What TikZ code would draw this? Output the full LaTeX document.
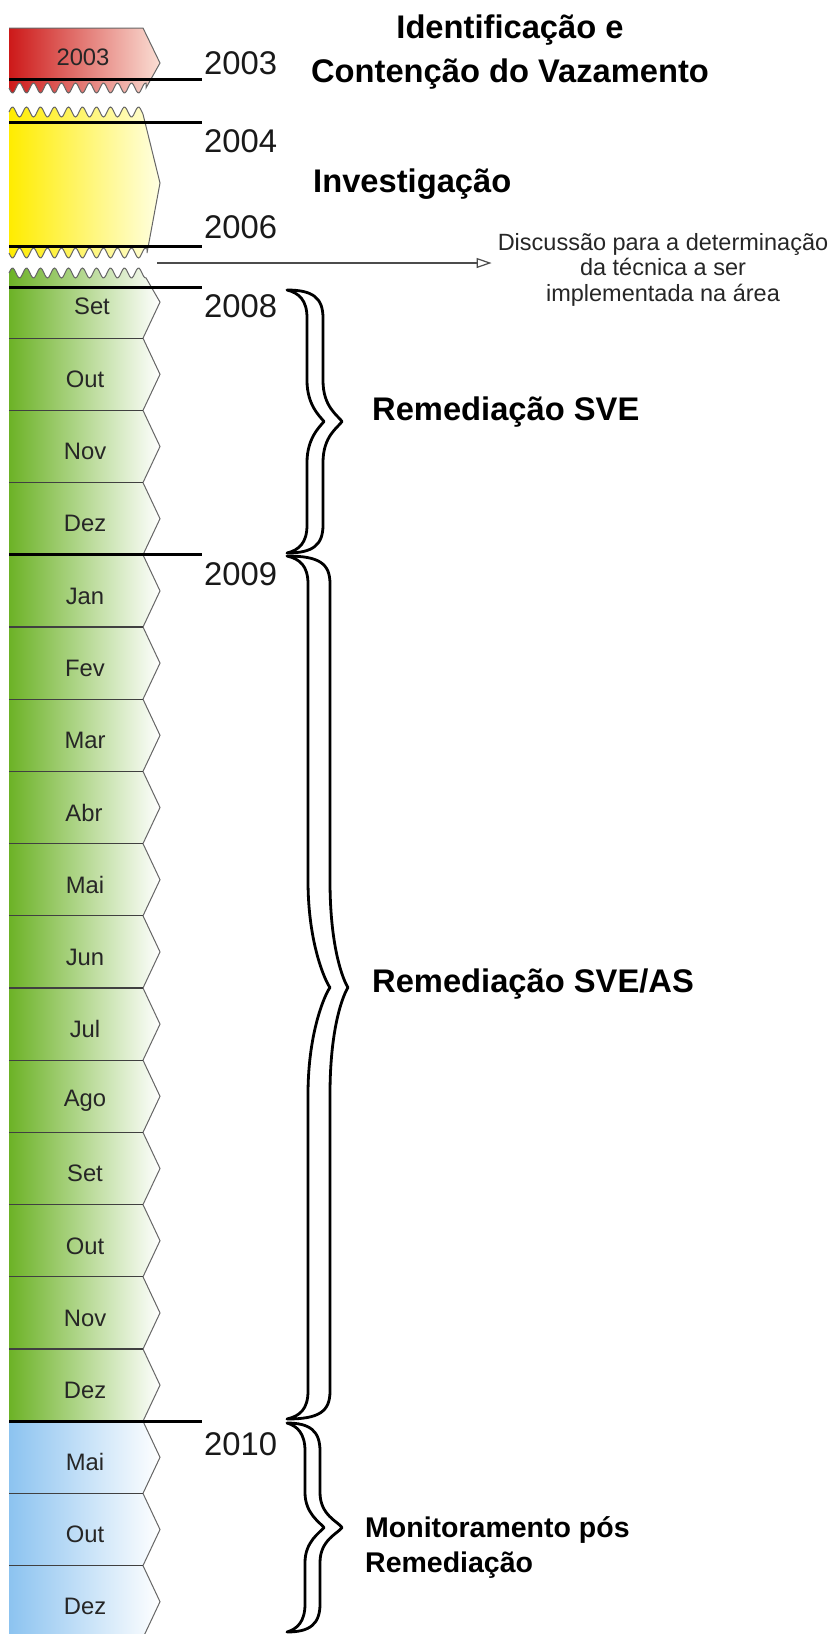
\documentclass[tikz,border=0pt]{standalone}
\usepackage{fontspec}
\setmainfont{Liberation Sans}
\usetikzlibrary{arrows.meta}

\definecolor{leakred}{RGB}{205,25,25}
\definecolor{leakpink}{RGB}{250,222,212}
\definecolor{invyellow}{RGB}{255,236,0}
\definecolor{invpale}{RGB}{255,255,226}
\definecolor{svegreen}{RGB}{108,178,38}
\definecolor{monblue}{RGB}{140,195,240}

\tikzset{
  yearline/.style={line width=3pt,black},
  sepline/.style={line width=1.3pt,black!75},
  edgeline/.style={line width=1pt,black!60},
  monthlabel/.style={font=\fontsize{23.8}{28}\selectfont,text=black!85,inner sep=0pt},
  yearlabel/.style={font=\fontsize{32.8}{38}\selectfont,text=black!90,inner sep=0pt,anchor=base west},
  phase/.style={font=\fontsize{32.7}{44}\selectfont\bfseries,inner sep=0pt,anchor=base west},
  bracepen/.style={line width=2.8pt,black,fill=white,line join=round},
}

% #1 top, #2 bottom, #3 tip x, #4 inner stem x, #5 outer stem x
\newcommand{\hollowbrace}[5]{%
  \pgfmathsetmacro{\bm}{(#1+#2)/2}%
  \pgfmathsetmacro{\bl}{0.11*(#2-#1)+12}%
  \draw[bracepen] (287,#1)
    .. controls (#5-10,#1) and (#5,#1+8) .. (#5,#1+28)
    -- (#5,\bm-\bl) .. controls (#5,\bm-0.35*\bl) and (#3-4,\bm-6) .. (#3,\bm)
    .. controls (#3-4,\bm+6) and (#5,\bm+0.35*\bl) .. (#5,\bm+\bl)
    -- (#5,#2-28) .. controls (#5,#2-8) and (#5-10,#2) .. (287,#2)
    .. controls (#4-8,#2-3) and (#4,#2-10) .. (#4,#2-28)
    -- (#4,\bm+\bl) .. controls (#4,\bm+0.4*\bl) and (#3-22,\bm+5) .. (#3-18,\bm)
    .. controls (#3-22,\bm-5) and (#4,\bm-0.4*\bl) .. (#4,\bm-\bl)
    -- (#4,#1+28) .. controls (#4,#1+10) and (#4-8,#1+3) .. cycle;}

\begin{document}
\begin{tikzpicture}[x=1pt,y=-1pt]
  \useasboundingbox (0,0) rectangle (833,1634);
  \fill[white] (0,0) rectangle (833,1634);

  \shade[left color=leakred,right color=leakpink] (9,28) -- (143,28) -- (160,63) -- (146,88)
    -- plot[domain=146:9,samples=100] (\x,{88+5*sin(25.714*(\x-9))}) -- cycle;
  \draw[edgeline] (9,28) -- (143,28) -- (160,63) -- (146,88)
    -- plot[domain=146:9,samples=100] (\x,{88+5*sin(25.714*(\x-9))});

  \shade[left color=invyellow,right color=invpale]
    plot[domain=9:143,samples=100] (\x,{112-5*sin(25.714*(\x-9))}) -- (160,183) -- (147,253)
    -- plot[domain=147:9,samples=100] (\x,{253+5*sin(25.714*(\x-9))}) -- cycle;
  \draw[edgeline]
    plot[domain=9:143,samples=100] (\x,{112-5*sin(25.714*(\x-9))}) -- (160,183) -- (147,253)
    -- plot[domain=147:9,samples=100] (\x,{253+5*sin(25.714*(\x-9))});

  \shade[left color=svegreen,right color=white]
    plot[domain=9:146,samples=100] (\x,{273-5*sin(25.714*(\x-9))}) -- (160,302.1)
    \foreach \k in {1,...,15} { -- (143,{266+72.2*\k}) -- (160,{302.1+72.2*\k}) }
    -- (143,1421.2) -- (9,1421.2) -- cycle;
  \shade[left color=monblue,right color=white] (9,1421.2)
    \foreach \k in {16,17,18} { -- (143,{266+72.2*\k}) -- (160,{302.1+72.2*\k}) }
    -- (143,1637.8) -- (9,1637.8) -- cycle;
  \draw[edgeline]
    plot[domain=9:146,samples=100] (\x,{273-5*sin(25.714*(\x-9))}) -- (160,302.1)
    \foreach \k in {1,...,18} { -- (143,{266+72.2*\k}) -- (160,{302.1+72.2*\k}) }
    -- (143,1637.8);

  \foreach \k in {1,...,18}
    \draw[sepline] (9,{266+72.2*\k}) -- (143,{266+72.2*\k});
  \foreach \y in {79,122,246,287,554.8,1421.2}
    \draw[yearline] (9,\y) -- (202,\y);

  \path[monthlabel]
    (83,57) node (lab2003){2003}
    (92,306) node (m0){Set}
    (85,379) node (m1){Out}
    (85,451) node (m2){Nov}
    (85,523) node (m3){Dez}
    (85,596) node (m4){Jan}
    (85,668) node (m5){Fev}
    (85,740) node (m6){Mar}
    (84,813) node (m7){Abr}
    (85,885) node (m8){Mai}
    (85,957) node (m9){Jun}
    (85,1029) node (m10){Jul}
    (85,1101) node (m11){Ago}
    (85,1173) node (m12){Set}
    (85,1246) node (m13){Out}
    (85,1318) node (m14){Nov}
    (85,1390) node (m15){Dez}
    (85,1462) node (m16){Mai}
    (85,1534) node (m17){Out}
    (85,1606) node (m18){Dez};

  \path[yearlabel]
    (204,74) node (y2003){2003}
    (204,152) node (y2004){2004}
    (204,238) node (y2006){2006}
    (204,317) node (y2008){2008}
    (204,585) node (y2009){2009}
    (204,1455) node (y2010){2010};

  \hollowbrace{290}{553}{342}{307}{323}
  \hollowbrace{556}{1419}{348}{308}{330}
  \hollowbrace{1423}{1632}{342}{305}{320}

  \node[phase,anchor=base,align=center] (leak) at (510,82) {Identificação e\\Contenção do Vazamento};
  \node[phase] (inv) at (313,192) {Investigação};
  \node[phase] (sve) at (372,420) {Remediação SVE};
  \node[phase] (sveas) at (372,992) {Remediação SVE/AS};
  \node[phase,font=\fontsize{28.5}{35}\selectfont\bfseries,align=left] (mon) at (365,1572)
    {Monitoramento pós\\Remediação};

  \node[font=\fontsize{23.5}{25.5}\selectfont,align=center,anchor=base,inner sep=0pt,text=black!85]
    (disc) at (663,301) {Discussão para a determinação\\da técnica a ser\\implementada na área};
  \coordinate (gap) at (157,263);
  \draw[-{Triangle[open,length=15pt,width=10pt]},line width=1.2pt,black!70,shorten >=6pt]
    (gap) -- (gap -| disc.west);
\end{tikzpicture}
\end{document}
